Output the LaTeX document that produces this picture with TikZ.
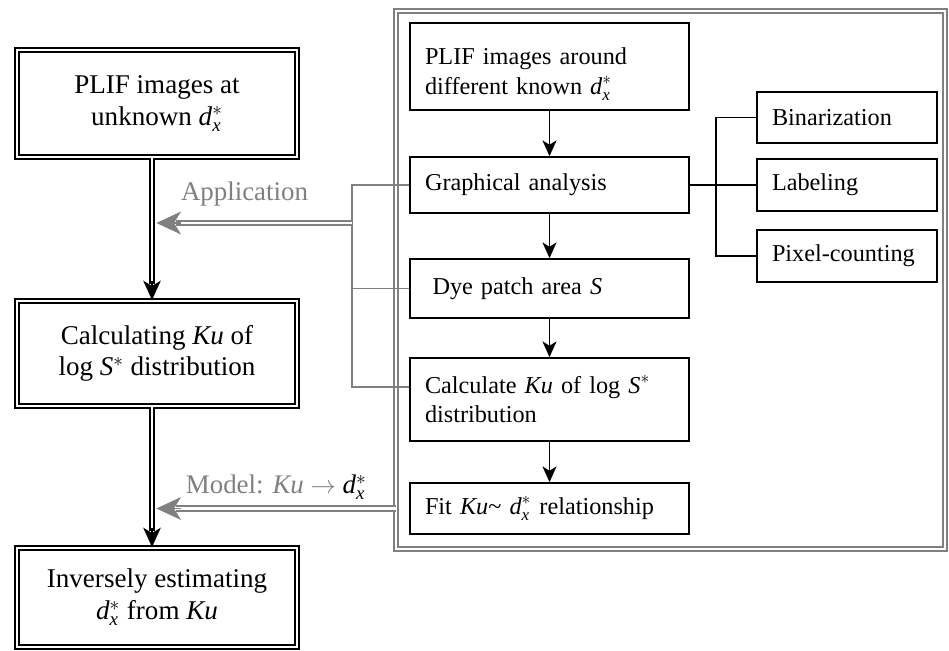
\documentclass[tikz,border=0pt]{standalone}
\usepackage{amsmath}
\usepackage{fontspec}
\setmainfont{Liberation Serif}
\usetikzlibrary{arrows.meta,calc}
\definecolor{lgray}{RGB}{128,128,128}
\newcommand{\dxs}{\textit{d}$_{\textit{x}}^{*}$}

\begin{document}
\begin{tikzpicture}[>={Stealth[length=9pt,width=8pt,inset=2.5pt]}]
		\tikzstyle{lbox} = [rectangle, draw, double, double distance=1.2pt, line width=1.1pt, minimum width=5.6cm, align=center, font=\fontsize{15.4}{18}\selectfont]
		\tikzstyle{rbox} = [rectangle, draw, line width=0.9pt, text width=4.98cm, inner xsep=0.3cm, align=left, font=\fontsize{13.8}{17}\selectfont]
		\tikzstyle{sbox} = [rectangle, draw, line width=0.9pt, text width=3cm, inner xsep=0.3cm, align=left, minimum height=1.03cm, font=\fontsize{13.8}{17}\selectfont]
		\tikzstyle{bdl} = [draw=black, double, double distance=1.2pt, line width=1pt, shorten >=9pt]
		\tikzstyle{btip} = [-{Stealth[length=11pt,width=10pt,inset=3pt]}, line width=0.8pt]
		\tikzstyle{gdl} = [draw=lgray, double, double distance=1.3pt, line width=1.1pt, shorten >=11pt]
		\tikzstyle{gtip} = [draw=lgray, fill=lgray, -{Stealth[length=14pt,width=13pt,inset=4pt]}, line width=0.8pt]
		\tikzstyle{glabel} = [text=lgray, font=\fontsize{15.3}{18}\selectfont]
		\useasboundingbox (0,0) rectangle (18.98,-13.02);
		% left column
		\node (unk) [lbox, minimum height=2.14cm] at (3.14,-2.07) {PLIF images at\\ unknown \dxs};
		\node (calc2) [lbox, minimum height=2.1cm, below of=unk, node distance=5cm] {Calculating \textit{Ku} of\\ log \textit{S}$^{*}$ distribution};
		\node (inv) [lbox, minimum height=1.98cm, below of=calc2, node distance=4.88cm] {Inversely estimating\\ \dxs{} from \textit{Ku}};
		% right column
		\node (around) [rbox, minimum height=1.74cm] at (10.99,-1.33) {\rule{0pt}{18pt}PLIF images around\\ different known \dxs};
		\node (graph) [rbox, minimum height=1.12cm, below of=around, node distance=2.37cm] {Graphical analysis};
		\node (dye) [rbox, minimum height=1.18cm, below of=graph, node distance=2.07cm] {\hspace{0.15cm}Dye patch area \textit{S}};
		\node (calcku) [rbox, minimum height=1.66cm, below of=dye, node distance=2.22cm] {Calculate \textit{Ku} of log \textit{S}$^{*}$\\ distribution};
		\node (fitrel) [rbox, minimum height=1.02cm, below of=calcku, node distance=2.18cm] {Fit \textit{Ku}\textasciitilde{} \dxs{} relationship};
		\node (lab) [sbox, right of=graph, node distance=5.95cm] {Labeling};
		\node (bin) [sbox, above of=lab, node distance=1.35cm] {Binarization};
		\node (pix) [sbox, below of=lab, node distance=1.42cm] {Pixel-counting};
		% frame
		\coordinate (fnw) at ($(around.north west)+(-0.26,0.23)$);
		\coordinate (fse) at ($(fitrel.south -| bin.east)+(0.15,-0.28)$);
		\draw[draw=lgray, double, double distance=1.3pt, line width=1pt] (fnw) rectangle (fse);
		% right arrows
		\draw[->, line width=1pt] (around) -- (graph);
		\draw[->, line width=1pt] (graph) -- (dye);
		\draw[->, line width=1pt] (dye) -- (calcku);
		\draw[->, line width=1pt] (calcku) -- (fitrel);
		\draw[line width=1pt] (graph.east) -- (lab.west);
		\draw[line width=1pt] (bin.west) -- ++(-0.8,0) |- (pix.west);
		% gray bracket
		\draw[lgray, line width=1.1pt] (graph.west) -- ++(-1.14,0) coordinate (gtop) |- ($(calcku.west)+(0,0.25)$);
		\draw[lgray, line width=1.1pt] (dye.west) -- (dye.west -| gtop);
		\coordinate (gsrc) at ($(gtop)+(0,-0.76)$);
		\coordinate (gtgt) at ($(unk.south |- gsrc)+(-0.1,0)+(2.5pt,0)$);
		\coordinate (msrc) at (fitrel.west -| fnw);
		\coordinate (mtgt) at ($(unk.south |- fitrel.west)+(-0.1,0)+(2.5pt,0)$);
		\draw[gdl] (gsrc) -- node[glabel, above=5.5pt, pos=0.55] {Application} (gtgt);
		\draw[gtip] ($(gtgt)+(14pt,0)$) -- (gtgt);
		\draw[gdl] (msrc) -- node[glabel, above=1pt] {Model: \textit{Ku} $\rightarrow$ {\color{black}\dxs}} (mtgt);
		\draw[gtip] ($(mtgt)+(14pt,0)$) -- (mtgt);
		% left arrows
		\draw[bdl] ([xshift=-0.1cm]unk.south) -- ([xshift=-0.1cm]calc2.north);
		\draw[btip] ([xshift=-0.1cm,yshift=11pt]calc2.north) -- ([xshift=-0.1cm]calc2.north);
		\draw[bdl] ([xshift=-0.1cm]calc2.south) -- ([xshift=-0.1cm]inv.north);
		\draw[btip] ([xshift=-0.1cm,yshift=11pt]inv.north) -- ([xshift=-0.1cm]inv.north);
	\end{tikzpicture}
\end{document}
